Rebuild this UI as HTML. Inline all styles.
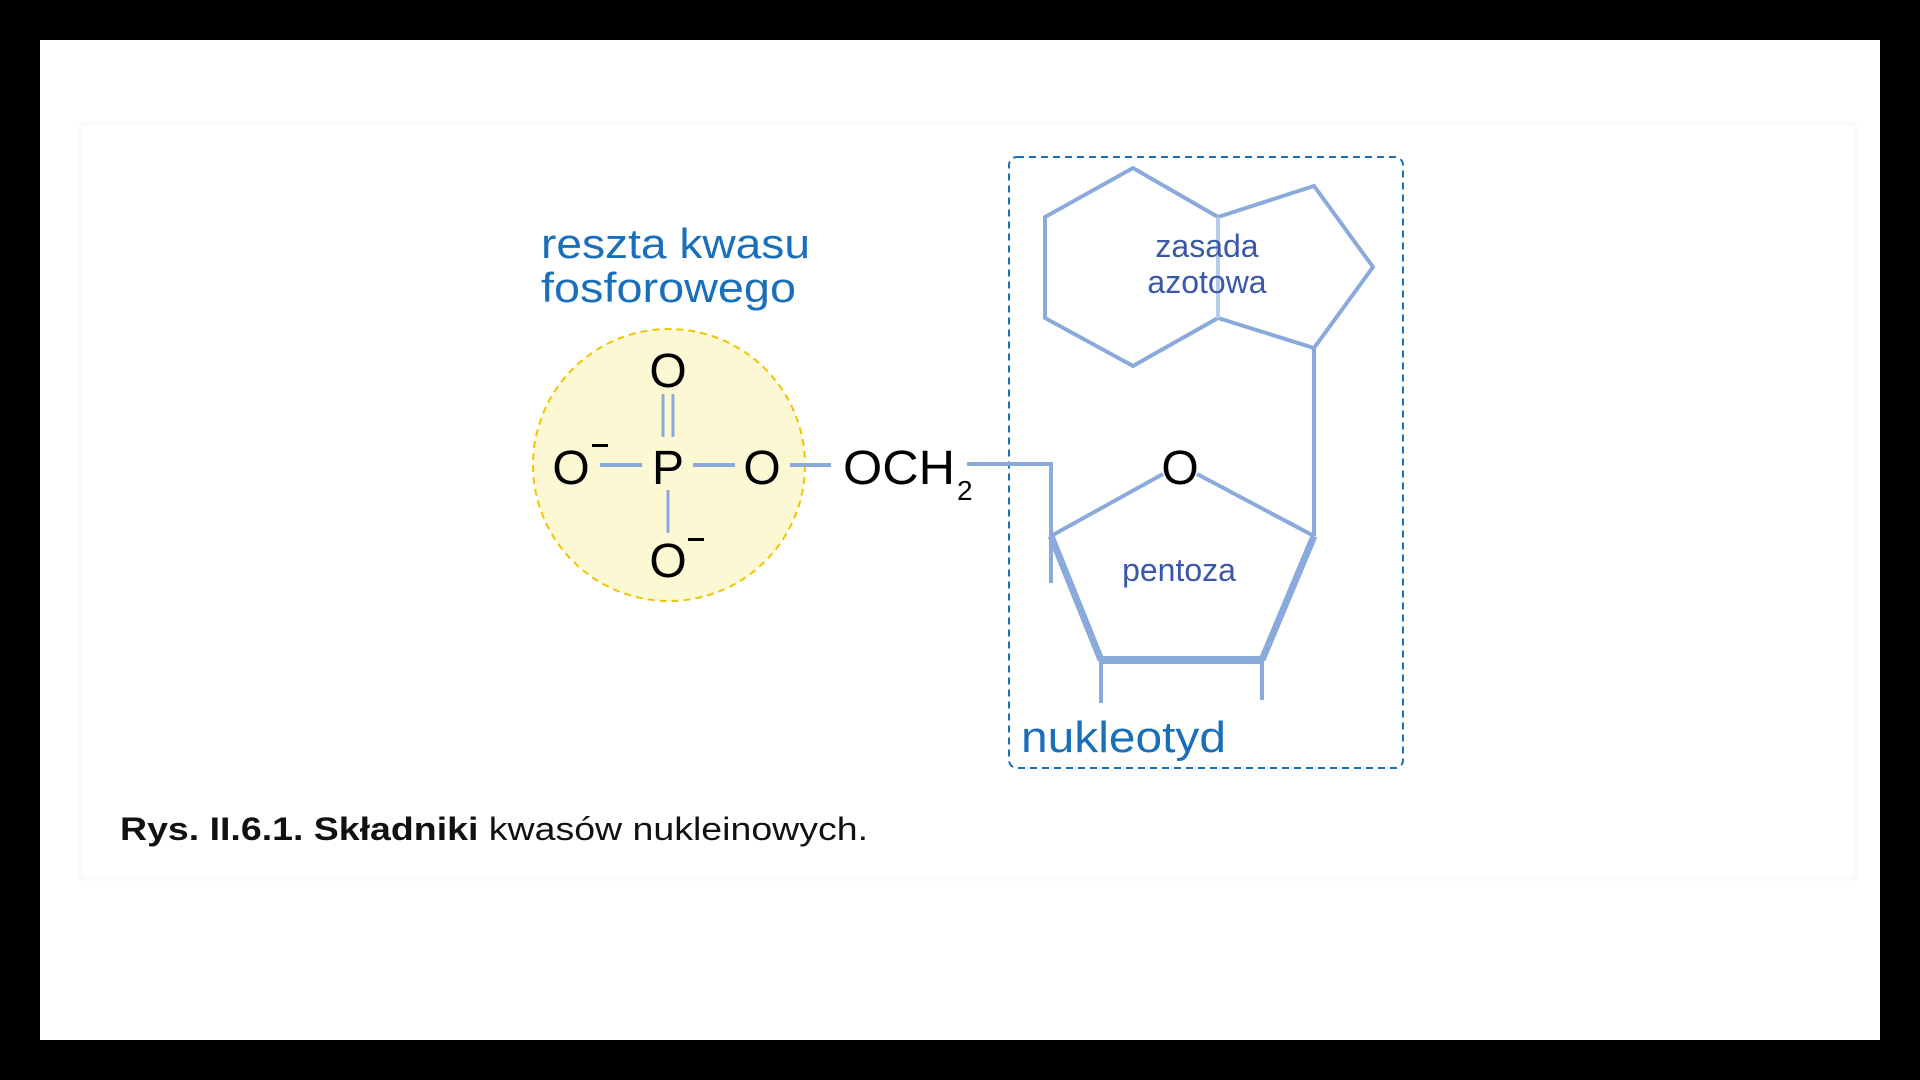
<!DOCTYPE html>
<html><head><meta charset="utf-8"><style>
html,body{margin:0;padding:0;background:#000;}
body{width:1920px;height:1080px;overflow:hidden;position:relative;}
</style></head><body>
<svg width="1920" height="1080" viewBox="0 0 1920 1080" xmlns="http://www.w3.org/2000/svg" style="position:absolute;left:0;top:0">
<rect x="0" y="0" width="1920" height="1080" fill="#000"/>
<rect x="40" y="40" width="1840" height="1000" fill="#fff"/>
<rect x="79" y="121" width="1778" height="760" fill="#fafafa"/>
<rect x="83" y="125" width="1770" height="752" fill="#fff"/>
<rect x="1009" y="157" width="394" height="611" rx="8" fill="none" stroke="#1a6fba" stroke-width="2" stroke-dasharray="7,5"/>
<circle cx="669" cy="465" r="136" fill="#fdf8d4" stroke="#f0c400" stroke-width="2" stroke-dasharray="7,5"/>
<g stroke="#8aaadc" fill="none" stroke-width="4">
<polyline points="1218,217 1133,168 1045,217 1045,318 1133,366 1218,318"/>
<polyline points="1218,217 1314,186 1373,267 1314,348 1218,318"/>
<line x1="1218" y1="217" x2="1218" y2="318" stroke="#b6cbeb"/>
<line x1="1314" y1="348" x2="1314" y2="536"/>
<polyline points="967,464 1051,464 1051,583"/>
<line x1="1051" y1="536" x2="1163" y2="474"/>
<line x1="1197" y1="474" x2="1314" y2="536"/>
<line x1="1051" y1="536" x2="1101" y2="660" stroke-width="7"/>
<line x1="1101" y1="660" x2="1262" y2="660" stroke-width="8"/>
<line x1="1262" y1="660" x2="1314" y2="536" stroke-width="7"/>
<line x1="1101" y1="660" x2="1101" y2="703"/>
<line x1="1262" y1="660" x2="1262" y2="700"/>
<line x1="600" y1="465" x2="642" y2="465"/>
<line x1="693" y1="465" x2="735" y2="465"/>
<line x1="790" y1="465" x2="831" y2="465"/>
<line x1="663" y1="394" x2="663" y2="437" stroke-width="3"/>
<line x1="673" y1="394" x2="673" y2="437" stroke-width="3"/>
<line x1="668" y1="490" x2="668" y2="533" stroke-width="3"/>
</g>
<g font-family="Liberation Sans, sans-serif" fill="#000" font-size="48">
<text x="668" y="387" text-anchor="middle">O</text>
<text x="571" y="484" text-anchor="middle">O</text>
<text x="668" y="484" text-anchor="middle">P</text>
<text x="762" y="484" text-anchor="middle">O</text>
<text x="668" y="577" text-anchor="middle">O</text>
<text x="1180" y="484" text-anchor="middle">O</text>
<text x="843" y="484" textLength="112" lengthAdjust="spacingAndGlyphs">OCH</text>
<text x="957" y="500" font-size="28">2</text>
<rect x="592" y="444" width="16" height="3"/>
<rect x="688" y="538" width="16" height="3"/>
</g>
<g font-family="Liberation Sans, sans-serif" fill="#1a6fba" font-size="42">
<text x="541" y="258" textLength="269" lengthAdjust="spacingAndGlyphs">reszta kwasu</text>
<text x="541" y="302" textLength="255" lengthAdjust="spacingAndGlyphs">fosforowego</text>
<text x="1021" y="752" font-size="44" textLength="205" lengthAdjust="spacingAndGlyphs">nukleotyd</text>
</g>
<g font-family="Liberation Sans, sans-serif" fill="#3a58a8" font-size="32" text-anchor="middle">
<text x="1207" y="257">zasada</text>
<text x="1207" y="293">azotowa</text>
<text x="1179" y="581">pentoza</text>
</g>
<text x="120" y="840" font-family="Liberation Sans, sans-serif" font-size="32" fill="#111" textLength="748" lengthAdjust="spacingAndGlyphs"><tspan font-weight="bold">Rys. II.6.1. Składniki</tspan> kwasów nukleinowych.</text>
</svg>
</body></html>
